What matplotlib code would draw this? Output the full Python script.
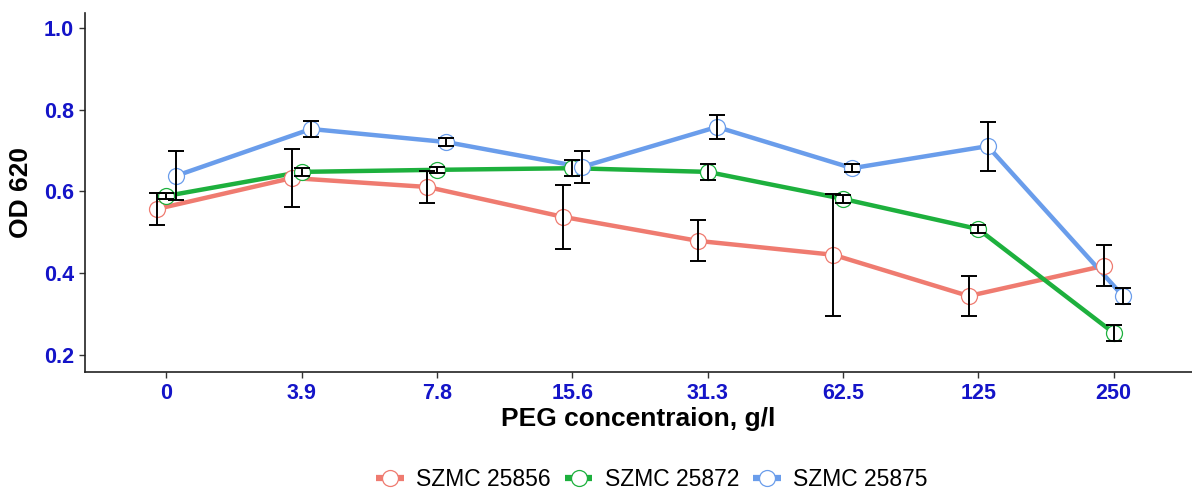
import matplotlib.pyplot as plt
import numpy as np

plt.rcParams['font.family'] = ['Liberation Sans', 'DejaVu Sans']

concentrations = ["0", "3.9", "7.8", "15.6", "31.3", "62.5", "125", "250"]
strains = ["SZMC 25856", "SZMC 25872", "SZMC 25875"]
colors = ["#EF7B70", "#1DB03D", "#6A9DEB"]

od_25856 = [0.557, 0.633, 0.611, 0.538, 0.479, 0.445, 0.344, 0.418]
err_25856 = [0.040, 0.070, 0.040, 0.078, 0.050, 0.150, 0.050, 0.050]
od_25872 = [0.589, 0.648, 0.653, 0.657, 0.648, 0.582, 0.508, 0.254]
err_25872 = [0.008, 0.010, 0.008, 0.020, 0.020, 0.010, 0.010, 0.020]
od_25875 = [0.638, 0.753, 0.721, 0.660, 0.758, 0.657, 0.711, 0.344]
err_25875 = [0.060, 0.020, 0.010, 0.040, 0.030, 0.010, 0.060, 0.020]

values = [od_25856, od_25872, od_25875]
errors = [err_25856, err_25872, err_25875]
dodge = [-0.07, 0.0, 0.07]

fig = plt.figure(figsize=(11.92, 4.91), dpi=100)
ax = fig.add_axes([0.0713, 0.2424, 0.9287, 0.7311])

x = np.arange(len(concentrations))
handles = []
for vals, errs, col, dx, name in zip(values, errors, colors, dodge, strains):
    xs = x + dx
    ax.plot(xs, vals, color=col, linewidth=3.2, zorder=2, solid_capstyle='butt')
    ax.plot(xs, vals, linestyle='none', marker='o', markersize=11.5,
            markerfacecolor='white', markeredgecolor=col, markeredgewidth=0.9, zorder=3)
    ax.errorbar(xs, vals, yerr=errs, fmt='none', ecolor='black',
                elinewidth=1.4, capsize=6, capthick=1.4, zorder=4)
    # legend key: short thick segment with open circle
    h, = ax.plot([], [], color=col, linewidth=4.5, marker='o', markersize=11.5,
                 markerfacecolor='white', markeredgecolor=col, markeredgewidth=0.9,
                 solid_capstyle='butt')
    handles.append(h)

ax.set_xlim(-0.6, 7.58)
ax.set_ylim(0.158, 1.037)
ax.set_xticks(x)
ax.set_xticklabels(concentrations)
ax.set_yticks([0.2, 0.4, 0.6, 0.8, 1.0])
ax.set_yticklabels(["0.2", "0.4", "0.6", "0.8", "1.0"])

for lbl in ax.get_xticklabels() + ax.get_yticklabels():
    lbl.set_color("#1414C8")
    lbl.set_fontweight("bold")
    lbl.set_fontsize(15.5)
ax.tick_params(axis='both', length=4, width=1, color='#333333', pad=4)

for side in ['top', 'right']:
    ax.spines[side].set_visible(False)
for side in ['left', 'bottom']:
    ax.spines[side].set_linewidth(1.2)
    ax.spines[side].set_color('#222222')

ax.set_xlabel("PEG concentraion, g/l", fontsize=19, fontweight='bold', labelpad=2)
ax.set_ylabel("OD 620", fontsize=19, fontweight='bold', labelpad=8)

fig.legend(handles, strains, loc='center', bbox_to_anchor=(0.547, 0.024), ncol=3,
           frameon=False, fontsize=16.5, handlelength=1.2, handletextpad=0.55,
           columnspacing=0.6)

fig.savefig("out.png", dpi=100)
